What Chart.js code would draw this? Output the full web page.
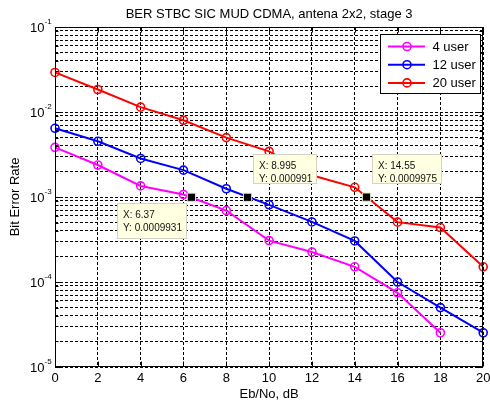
<!DOCTYPE html>
<html>
<head>
<meta charset="utf-8">
<script src="https://cdn.jsdelivr.net/npm/chart.js@4.4.1/dist/chart.umd.min.js"></script>
<style>
html, body { margin: 0; padding: 0; background: #fff; }
canvas { display: block; }
</style>
</head>
<body>
<canvas id="ber" width="490" height="405"></canvas>
<script>
// Values
const ebNo = [0, 2, 4, 6, 8, 10, 12, 14, 16, 18, 20];
const ber4 = [0.00384, 0.00238, 0.00135, 0.00107, 0.000693, 0.000307, 0.000225, 0.000151, 0.0000746, 0.0000253];
const ber12 = [0.00643, 0.00452, 0.00284, 0.00207, 0.00125, 0.000809, 0.000509, 0.000304, 0.0001, 0.00005, 0.0000253];
const ber20 = [0.0292, 0.0184, 0.0114, 0.0080, 0.0050, 0.00344, 0.0018, 0.0013, 0.000506, 0.000437, 0.000151];
const seriesNames = ['4 user', '12 user', '20 user'];
const seriesColors = ['#ff00ff', '#0000ff', '#ff0000'];

const xTicks = [0, 2, 4, 6, 8, 10, 12, 14, 16, 18, 20];
const yDecades = [-5, -4, -3, -2, -1];
const yMantissas = [1, 2, 3, 4, 5, 6, 7, 8, 9];

// MATLAB data tips
const tipX = [6.37, 8.995, 14.55];
const tipY = [0.0009931, 0.000991, 0.0009975];

const titleText = 'BER STBC SIC MUD CDMA, antena 2x2, stage 3';
const xTitle = 'Eb/No, dB';
const yTitle = 'Bit Error Rate';

// where each tip box sits next to its marker (style only)
const tipPlace = [
    { side: 'below-left', h: 36 },
    { side: 'above-right', h: 30 },
    { side: 'above-right', h: 30 }
];

const FONT = '"Liberation Sans", Arial, sans-serif';

function pairs(ys) {
    return ys.map((y, i) => ({ x: ebNo[i], y: y }));
}

const seriesData = [ber4, ber12, ber20];

const datasets = [{
    label: 'tips',
    type: 'scatter',
    data: tipX.map((x, i) => ({ x: x, y: tipY[i] })),
    pointStyle: 'rect',
    pointRadius: 5.8,
    pointBackgroundColor: '#000',
    pointBorderColor: '#eee8b8',
    pointBorderWidth: 1,
    showLine: false,
    clip: false,
    order: 0
}];
seriesData.forEach((ys, i) => {
    datasets.push({
        label: seriesNames[i],
        data: pairs(ys),
        borderColor: seriesColors[i],
        borderWidth: 2,
        pointRadius: 4,
        pointBorderWidth: 1.6,
        pointBorderColor: seriesColors[i],
        pointBackgroundColor: 'rgba(0,0,0,0)',
        tension: 0,
        clip: false,
        order: 1
    });
});

// axes frame, labels, legend and data tips drawn over the chart
const matlabLook = {
    id: 'matlabLook',
    beforeDraw(chart) {
        const c = chart.ctx;
        c.save();
        c.fillStyle = '#fff';
        c.fillRect(0, 0, chart.width, chart.height);
        c.restore();
    },
    afterDraw(chart) {
        const c = chart.ctx;
        const xs = chart.scales.x;
        const ys = chart.scales.y;
        const a = chart.chartArea;
        const L = Math.round(a.left) + 0.5, R = Math.round(a.right) - 0.5;
        const T = Math.round(a.top) + 0.5, B = Math.round(a.bottom) - 0.5;
        c.save();

        // box + inward ticks
        c.strokeStyle = '#000';
        c.lineWidth = 1;
        c.setLineDash([]);
        c.strokeRect(L, T, R - L, B - T);
        c.beginPath();
        xTicks.forEach(v => {
            const px = Math.round(xs.getPixelForValue(v)) + 0.5;
            c.moveTo(px, B); c.lineTo(px, B - 5);
            c.moveTo(px, T); c.lineTo(px, T + 5);
        });
        yDecades.forEach(d => {
            yMantissas.forEach(m => {
                const v = m * Math.pow(10, d);
                if (v > ys.max * 1.0001) return;
                const py = Math.round(ys.getPixelForValue(v)) + 0.5;
                const len = m === 1 ? 5 : 3;
                c.moveTo(L, py); c.lineTo(L + len, py);
                c.moveTo(R, py); c.lineTo(R - len, py);
            });
        });
        c.stroke();

        // tick labels
        c.fillStyle = '#000';
        c.font = '13px ' + FONT;
        c.textAlign = 'center';
        c.textBaseline = 'alphabetic';
        xTicks.forEach(v => {
            c.fillText(String(v), xs.getPixelForValue(v), 381.5);
        });
        yDecades.forEach(d => {
            const py = ys.getPixelForValue(Math.pow(10, d));
            c.font = '13px ' + FONT;
            c.textAlign = 'right';
            c.fillText('10', 44.5, py + 4.5);
            c.font = '8px ' + FONT;
            c.textAlign = 'left';
            c.fillText(String(d), 44.5, py - 3.5);
        });

        // titles
        c.font = '13px ' + FONT;
        c.textAlign = 'center';
        const midX = (a.left + a.right) / 2;
        c.fillText(titleText, midX, 17.5);
        c.fillText(xTitle, midX, 398);
        c.save();
        c.translate(18.5, (a.top + a.bottom) / 2);
        c.rotate(-Math.PI / 2);
        c.fillText(yTitle, 0, 0);
        c.restore();

        // data tips
        c.font = '10px ' + FONT;
        c.textAlign = 'left';
        tipX.forEach((x, i) => {
            const sx = xs.getPixelForValue(x);
            const sy = ys.getPixelForValue(tipY[i]);
            const l1 = 'X: ' + x;
            const l2 = 'Y: ' + tipY[i];
            const w = Math.round(Math.max(c.measureText(l1).width, c.measureText(l2).width) + 11);
            const h = tipPlace[i].h;
            let bx, by;
            if (tipPlace[i].side === 'below-left') {
                bx = Math.round(sx - 4 - w); by = Math.round(sy + 6);
            } else {
                bx = Math.round(sx + 5); by = Math.round(sy - 13 - h);
            }
            c.fillStyle = '#ffffe1';
            c.fillRect(bx, by, w, h);
            c.strokeStyle = '#d6d3c4';
            c.strokeRect(bx + 0.5, by + 0.5, w - 1, h - 1);
            c.fillStyle = '#111';
            c.fillText(l1, bx + 6, by + 14.5);
            c.fillText(l2, bx + 6, by + 27.5);
        });

        // legend
        const lx = 380.5, ly = 34.5, lw = 100, lh = 59;
        c.fillStyle = '#fff';
        c.fillRect(lx, ly, lw, lh);
        c.strokeStyle = '#000';
        c.lineWidth = 1;
        c.strokeRect(lx, ly, lw, lh);
        c.font = '13px ' + FONT;
        seriesNames.forEach((name, i) => {
            const ry = 46.5 + i * 18.2;
            c.strokeStyle = seriesColors[i];
            c.lineWidth = 2;
            c.beginPath();
            c.moveTo(388, ry); c.lineTo(425, ry);
            c.stroke();
            c.lineWidth = 1.6;
            c.beginPath();
            c.arc(407, ry, 4, 0, Math.PI * 2);
            c.stroke();
            c.fillStyle = '#000';
            c.fillText(name, 432.5, ry + 4.5);
        });
        c.restore();
    }
};

const chart = new Chart(document.getElementById('ber'), {
    type: 'line',
    data: { datasets: datasets },
    options: {
        responsive: false,
        animation: false,
        devicePixelRatio: 1,
        layout: { padding: { left: 55, right: 4, top: 27, bottom: 38 } },
        plugins: {
            legend: { display: false },
            tooltip: { enabled: false },
            title: { display: false }
        },
        scales: {
            x: {
                type: 'linear',
                min: 0,
                max: 20,
                ticks: { display: false, stepSize: 2 },
                afterBuildTicks: s => { s.ticks = xTicks.map(v => ({ value: v })); },
                grid: { color: '#000', lineWidth: 1, drawTicks: false },
                border: { display: false, dash: [3, 2] }
            },
            y: {
                type: 'logarithmic',
                min: 1e-5,
                max: 1e-1,
                ticks: { display: false, autoSkip: false },
                afterBuildTicks: s => {
                    const t = [];
                    yDecades.forEach(d => yMantissas.forEach(m => {
                        const v = m * Math.pow(10, d);
                        if (v <= 0.1000001) t.push({ value: v, major: m === 1 });
                    }));
                    s.ticks = t;
                },
                grid: { color: '#000', lineWidth: 1, drawTicks: false },
                border: { display: false, dash: [3, 2] }
            }
        }
    },
    plugins: [matlabLook]
});
</script>
</body>
</html>
